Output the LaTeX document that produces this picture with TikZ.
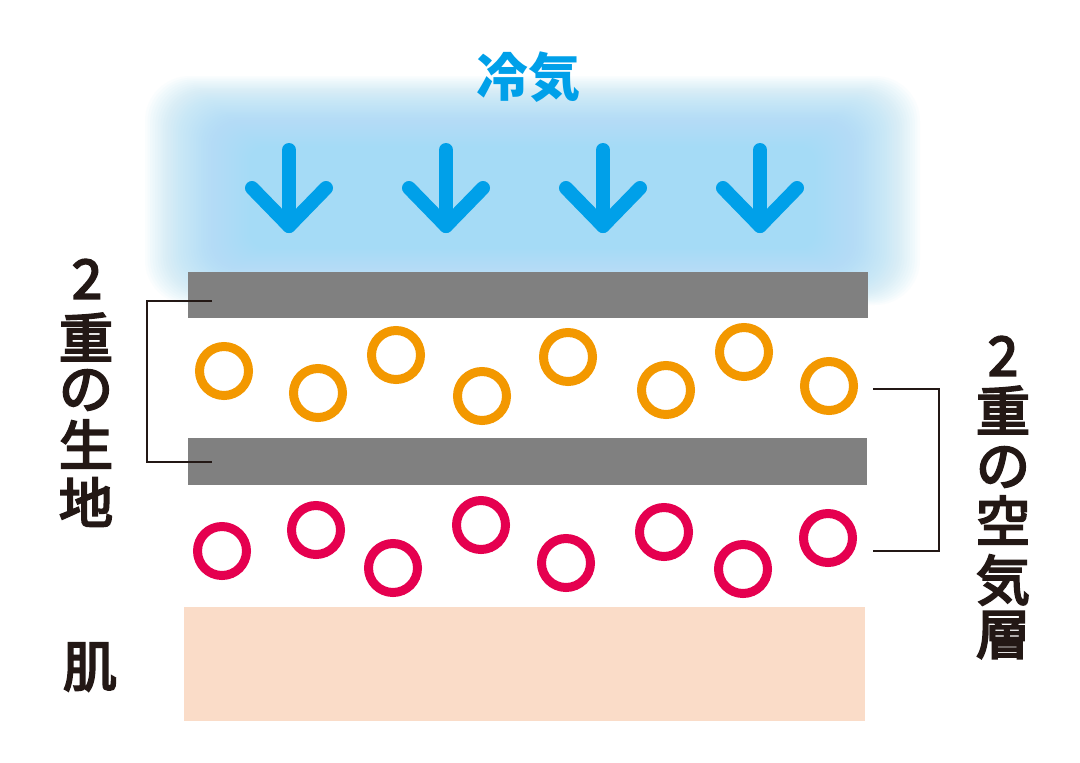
\documentclass[tikz,border=0pt]{standalone}
\usepackage{fontspec}
\newfontfamily\cjk{Noto Sans CJK JP}
\newfontfamily\cjkm{Noto Sans CJK JP}[FakeBold=4]
\definecolor{coldblue}{HTML}{00A0E9}
\definecolor{glowblue}{RGB}{165,219,246}
\definecolor{fabric}{HTML}{808080}
\definecolor{warm}{HTML}{F39800}
\definecolor{cool}{HTML}{E5004F}
\definecolor{skin}{HTML}{FADCC8}
\definecolor{ink}{HTML}{231815}
\tikzset{
  coldarrow/.style={draw=coldblue, line width=14, line cap=round, line join=round},
  fabricbar/.style={fill=fabric, draw=none},
  warmbubble/.style={draw=warm, line width=9},
  coolbubble/.style={draw=cool, line width=9},
  bracketline/.style={draw=ink, line width=2.6},
  vchar/.style={font=\cjkm\fontsize{54}{54}\selectfont, text=ink, inner sep=0pt},
}
\begin{document}
\begin{tikzpicture}[x=1pt,y=-1pt]
\useasboundingbox (0,0) rectangle (1080,763);
\fill[white] (0,0) rectangle (1080,763);
% glow
\foreach \i in {0,...,49}{
  \pgfmathsetmacro{\t}{\i/49}
  \pgfmathsetmacro{\xa}{145+125*\t}
  \pgfmathsetmacro{\ya}{76+84*\t}
  \pgfmathsetmacro{\xb}{920-125*\t}
  \pgfmathsetmacro{\yb}{305-68*\t}
  \pgfmathsetmacro{\rc}{45-35*\t}
  \fill[glowblue, fill opacity=0.05, rounded corners=\rc] (\xa,\ya) rectangle (\xb,\yb);
}
% title
\node[font=\cjk\bfseries\fontsize{52}{52}\selectfont, text=coldblue, inner sep=0pt] (title) at (528,77) {冷気};
% arrows
\foreach \x [count=\k] in {289,446,603,760}{
  \coordinate (a\k s) at (\x,150);
  \coordinate (a\k t) at (\x,226);
  \coordinate (a\k l) at (\x-37,188);
  \coordinate (a\k r) at (\x+37,188);
  \draw[coldarrow] (a\k s) -- (a\k t);
  \draw[coldarrow] (a\k l) -- (a\k t) -- (a\k r);
}
% fabric bars
\path[fabricbar] (188,272) rectangle (868,318);
\path[fabricbar] (188,438) rectangle (867,485);
\coordinate (bar1) at (212,301);
\coordinate (bar2) at (212,462);
% skin
\path[fill=skin] (184,607) rectangle (865,721);
% bubbles
\foreach \x/\y in {224/371,318/393,396/355,482/396,568/357,666/390,744/352,829/386}
  \draw[warmbubble] (\x,\y) circle (24.5);
\foreach \x/\y in {222/551,316/530,393/568,481/525,566/563,664/532,743/569,828/538}
  \draw[coolbubble] (\x,\y) circle (24.5);
% left bracket
\draw[bracketline] (bar1) -- (147,301) -- (147,462) -- (bar2);
% right bracket
\coordinate (air1) at (873,389);
\coordinate (air2) at (873,551);
\draw[bracketline] (air1) -- (939,389) -- (939,551) -- (air2);
% left label
\node[vchar] (l1) at (87,279) {2};
\node[vchar] (l2) at (86,337) {重};
\node[vchar] (l3) at (86,390) {の};
\node[vchar] (l4) at (86,444) {生};
\node[vchar] (l5) at (86,502) {地};
% right label
\node[vchar] (r1) at (1003,356) {2};
\node[vchar] (r2) at (1003,410) {重};
\node[vchar] (r3) at (1003,467) {の};
\node[vchar] (r4) at (1003,520) {空};
\node[vchar] (r5) at (1003,580) {気};
\node[vchar] (r6) at (1003,635) {層};
% skin label
\node[vchar] (skinlabel) at (90,667) {肌};
\end{tikzpicture}
\end{document}
